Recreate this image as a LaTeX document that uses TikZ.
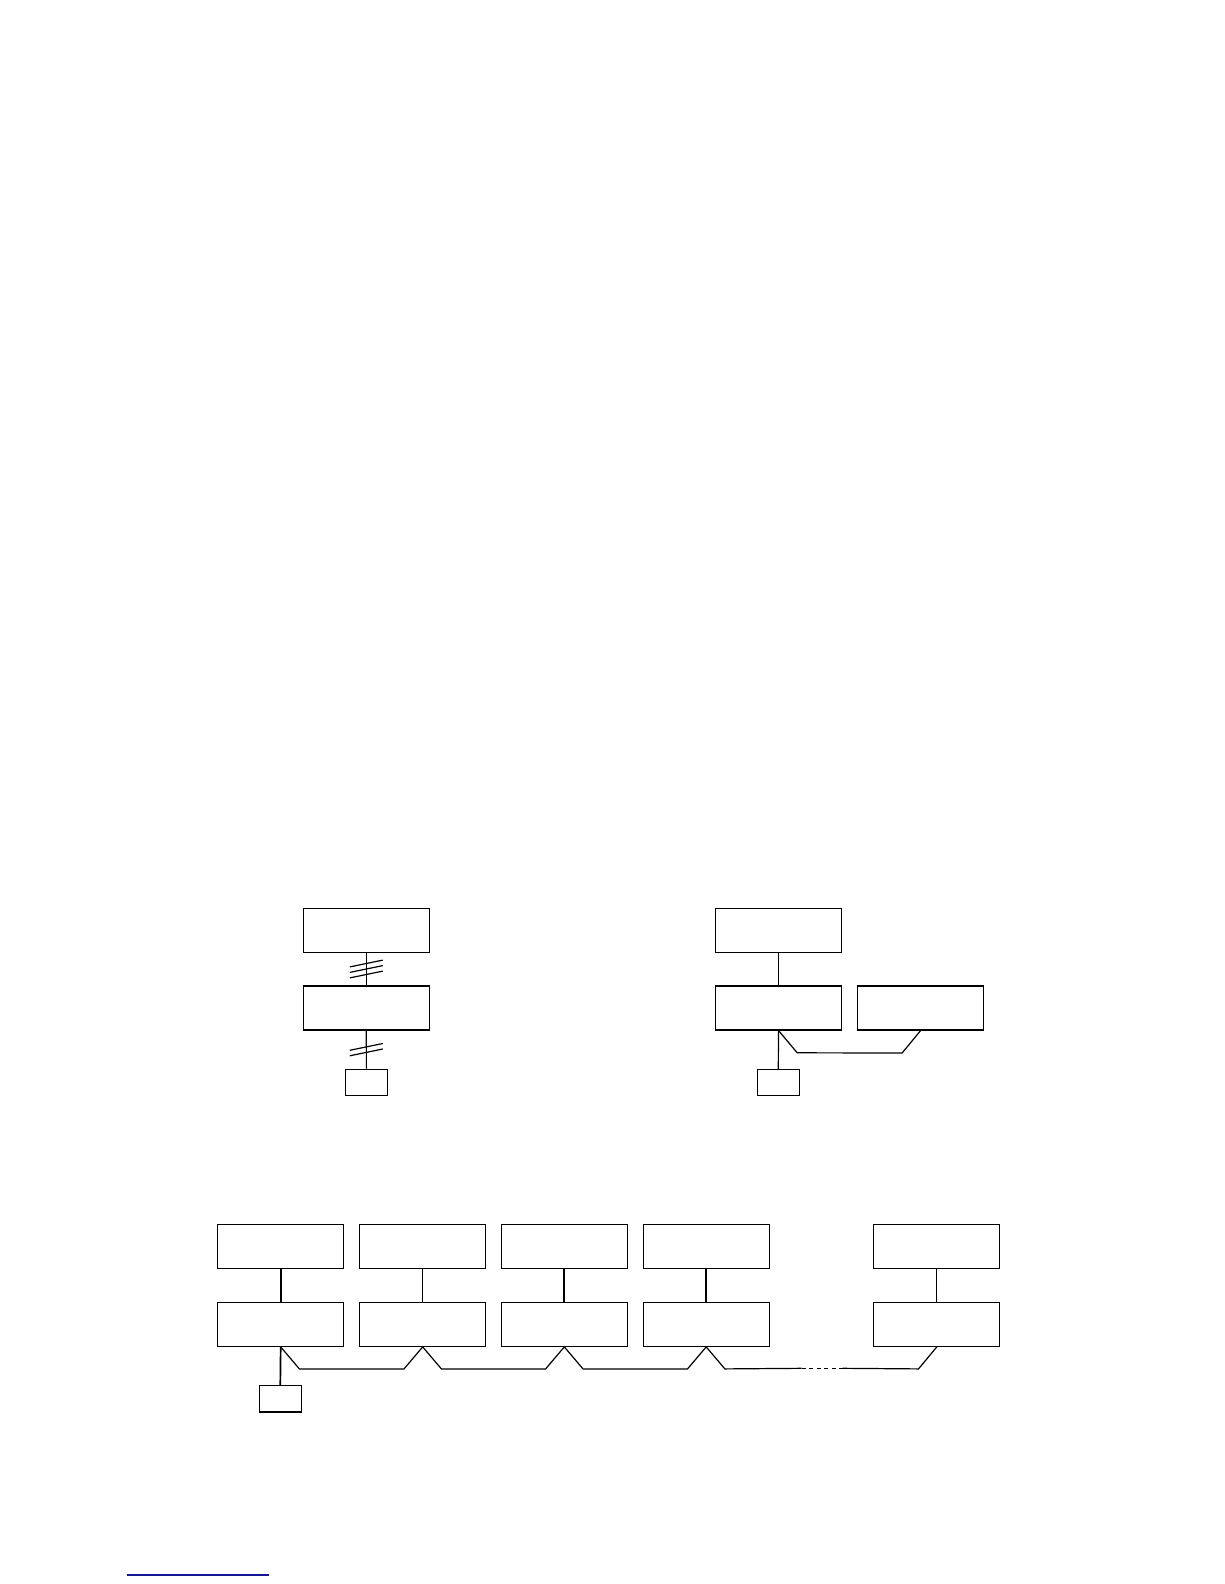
\documentclass[tikz,border=0pt]{standalone}
\usetikzlibrary{calc}
\definecolor{linkblue}{RGB}{20,20,150}
\begin{document}
\begin{tikzpicture}[x=1pt,y=-1pt,
  box/.style={draw=black,line width=1.2pt,rectangle,inner sep=0pt,minimum width=126pt,minimum height=44pt},
  tbox/.style={box,line width=1.6pt},
  small/.style={draw=black,line width=1.2pt,rectangle,inner sep=0pt,minimum width=42pt,minimum height=26.5pt},
  wire/.style={draw=black,line width=1.2pt},
  twire/.style={draw=black,line width=1.7pt},
  slash/.style={draw=black,line width=1.2pt},
  gapdash/.style={draw=black,line width=1.2pt,dash pattern=on 4pt off 3.5pt}]
\useasboundingbox (0,0) rectangle (1224,1584);
\fill[white] (0,0) rectangle (1224,1584);

% ---- left diagram ----
\node[box] (A1) at (366.3,930.3) {};
\node[tbox] (A2) at (366.3,1007.9) {};
\node[small] (A3) at (366.4,1082.4) {};
\draw[wire] (A1.south) -- (A2.north);
\draw[wire] (A2.south) -- (A3.north);
\coordinate (m1) at ($(A1.south)!0.5!(A2.north)$);
\coordinate (m2) at ($(A2.south)!0.5!(A3.north)$);
\foreach \d in {-5.5,0,5.5}{
  \draw[slash] ($(m1)+(-16.5,3.4+\d)$) -- ($(m1)+(16.5,-3.4+\d)$);
}
\foreach \d in {-2.75,2.75}{
  \draw[slash] ($(m2)+(-16.5,3.4+\d)$) -- ($(m2)+(16.5,-3.4+\d)$);
}

% ---- right diagram ----
\node[box] (C1) at (778.5,930.3) {};
\node[box] (C2) at (778.5,1007.9) {};
\node[tbox] (C3) at (920.5,1007.9) {};
\node[small] (C4) at (778.3,1082.6) {};
\draw[wire] (C1.south) -- (C2.north);
\draw[wire] (C2.south) -- (C4.north);
\draw[wire] (C2.south) -- ++(18.7,22.3) -- ($(C3.south)+(-18.4,22.3)$) -- (C3.south);

% ---- bottom diagram ----
\node[box] (D1t) at (280.7,1246.3) {};
\node[box] (D1b) at (280.7,1324.3) {};
\node[box] (D2t) at (422.7,1246.3) {};
\node[box] (D2b) at (422.7,1324.3) {};
\node[box] (D3t) at (564.3,1246.3) {};
\node[box] (D3b) at (564.3,1324.3) {};
\node[box] (D4t) at (706.2,1246.3) {};
\node[box] (D4b) at (706.2,1324.3) {};
\node[box] (D5t) at (936.8,1246.3) {};
\node[box] (D5b) at (936.8,1324.3) {};
\node[small,minimum height=26.7pt] (E) at (280.3,1398.7) {};

\draw[twire] (D1t.south) -- (D1b.north);
\draw[wire] (D2t.south) -- (D2b.north);
\draw[twire] (D3t.south) -- (D3b.north);
\draw[twire] (D4t.south) -- (D4b.north);
\draw[wire] (D5t.south) -- (D5b.north);
\draw[twire] (D1b.south) -- (E.north);

\coordinate (g1) at (801.7,1368.3);
\coordinate (g2) at (842.7,1368.3);
\draw[wire,line join=miter] (D1b.south) -- ++(18.7,22)
  -- ($(D2b.south)+(-18.7,22)$) -- (D2b.south) -- ++(18.7,22)
  -- ($(D3b.south)+(-18.7,22)$) -- (D3b.south) -- ++(18.7,22)
  -- ($(D4b.south)+(-18.7,22)$) -- (D4b.south) -- ++(18.7,22)
  -- (g1);
\draw[gapdash] (g1) -- (g2);
\draw[wire] (g2) -- ($(D5b.south)+(-18.3,22)$) -- (D5b.south);

% ---- footnote rule ----
\draw[linkblue,line width=1.2pt] (126.7,1575) -- (269,1575);
\end{tikzpicture}
\end{document}
